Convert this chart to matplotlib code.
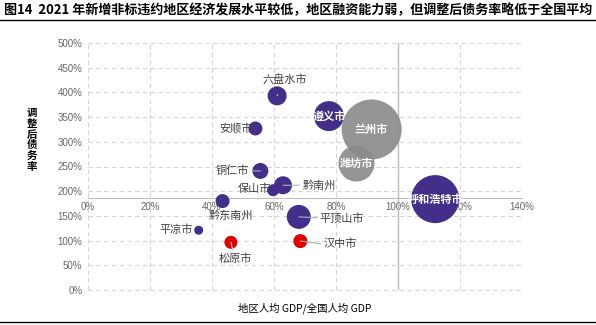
# 2021年新增非标违约地区：人均GDP相对水平 vs 调整后债务率
import matplotlib
matplotlib.use('Agg')
import matplotlib.pyplot as plt

plt.rcParams['font.family'] = ['Noto Sans CJK SC', 'DejaVu Sans']

# data
cities = ['六盘水市', '安顺市', '铜仁市', '保山市', '黔南州', '黔东南州', '平凉市',
          '松原市', '平顶山市', '汉中市', '呼和浩特市', '遵义市', '兰州市', '潍坊市']
gdp_ratio = [61, 54, 55.6, 59.7, 62.9, 43.4, 35.7, 46.1, 68, 68.5, 112, 77.7, 91.5, 86.6]
debt_ratio = [393, 327, 241, 202, 212, 180, 121, 96.5, 148, 99, 184, 352, 325, 256]
bubble = [9.5, 7, 8, 6, 9, 7, 4.5, 6.5, 12, 7, 24, 15, 30, 18]
group = ['p', 'p', 'p', 'p', 'p', 'p', 'p', 'r', 'p', 'r', 'p', 'p', 'g', 'g']
national_debt = 186

colors = {'p': '#432F8A', 'r': '#E00000', 'g': '#8A8A8A'}

W, H = 596, 325
fig = plt.figure(figsize=(W / 100, H / 100), dpi=100)
ax = fig.add_axes([88 / W, 1 - 290 / H, (522 - 88) / W, (290 - 43) / H])

ax.set_xlim(0, 140)
ax.set_ylim(0, 500)
ax.set_xticks(range(0, 141, 20))
ax.set_yticks(range(0, 501, 50))
ax.set_xticklabels([f'{v}%' for v in range(0, 141, 20)])
ax.set_yticklabels([f'{v}%' for v in range(0, 501, 50)])
ax.grid(True, ls=(0, (4, 3)), color='#d4d4d4', lw=0.8)
ax.set_axisbelow(True)
for g in ax.get_xgridlines() + ax.get_ygridlines():
    g.set_clip_on(False)

for s in ['top', 'right', 'left']:
    ax.spines[s].set_visible(False)
ax.spines['bottom'].set_position(('data', national_debt))
ax.spines['bottom'].set_color('#bdbdbd')
ax.axvline(100, color='#bdbdbd', lw=1, zorder=1)
ax.tick_params(length=0, labelsize=7, labelcolor='#666666', pad=4)
ax.tick_params(axis='x', pad=3)
for t in ax.get_xticklabels() + ax.get_yticklabels():
    t.set_family(['Liberation Sans', 'DejaVu Sans'])

# bubbles
sizes = [(2 * r * 0.72) ** 2 for r in bubble]
for i in range(len(cities)):
    alpha = 0.9 if group[i] == 'g' else 1
    ax.scatter(gdp_ratio[i], debt_ratio[i], s=sizes[i], color=colors[group[i]],
               alpha=alpha, edgecolors='none', zorder=3)

# labels: (dx, dy in px, leader line)
label_pos = {
    '六盘水市': (8, 17, True), '安顺市': (-19, 0, False), '铜仁市': (-28, 0, True),
    '保山市': (-19, 1, False), '黔南州': (36, 0, True), '黔东南州': (8, -15, False),
    '平凉市': (-23, 0, False), '松原市': (4, -16, True), '平顶山市': (43, -1, True),
    '汉中市': (40, -3, True),
}
for i, name in enumerate(cities):
    x, y = gdp_ratio[i], debt_ratio[i]
    if name in label_pos:
        dx, dy, line = label_pos[name]
        arrow = dict(arrowstyle='-', color='#b0b0b0', lw=0.8, shrinkA=0,
                     shrinkB=0, relpos=(0 if dx > 0 else 1, 0.5)) if line else None
        if name in ('六盘水市', '松原市'):
            arrow = dict(arrowstyle='-', color='#c8c8c8', lw=0.8, shrinkA=6, shrinkB=0)
        ax.annotate(name, (x, y), xytext=(dx * 0.72, dy * 0.72), textcoords='offset points',
                    ha='center', va='center', fontsize=8, color='#404040',
                    arrowprops=arrow, zorder=4)
    else:
        ax.text(x, y, name, ha='center', va='center', fontsize=8,
                color='white', fontweight='bold', zorder=4)

# title and frame lines
fig.text(4 / W, 1 - 10 / H, '图14  2021 年新增非标违约地区经济发展水平较低，地区融资能力弱，但调整后债务率略低于全国平均',
         fontsize=9.4, fontweight='bold', va='center', ha='left')
fig.add_artist(plt.Line2D([0, 1], [1 - 20 / H, 1 - 20 / H], color='black', lw=1))
fig.add_artist(plt.Line2D([0, 1], [1 - 322 / H, 1 - 322 / H], color='black', lw=1))

# vertical y label, one character per row
for k, ch in enumerate('调整后债务率'):
    fig.text(32 / W, 1 - (113 + k * 10.8) / H, ch, fontsize=7.5, fontweight='bold',
             ha='center', va='center')
fig.text(305 / W, 1 - 308 / H, '地区人均 GDP/全国人均 GDP', fontsize=7.5,
         ha='center', va='center')

fig.savefig('out.png', dpi=100)
